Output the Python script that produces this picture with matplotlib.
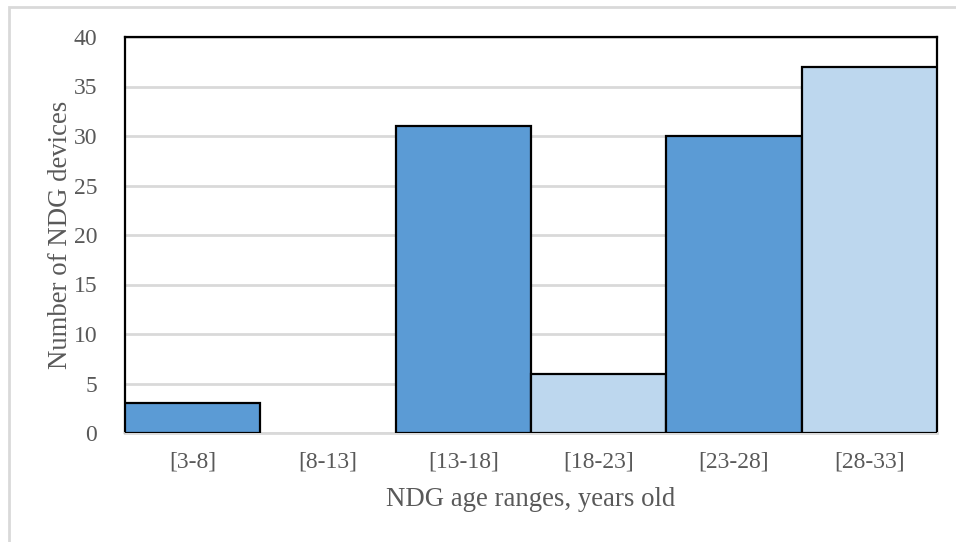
import matplotlib
matplotlib.use("Agg")
import matplotlib.pyplot as plt
from matplotlib.patches import Rectangle

# data
age_ranges = ["[3-8]", "[8-13]", "[13-18]", "[18-23]", "[23-28]", "[28-33]"]
device_counts = [3, 0, 31, 6, 30, 37]
y_ticks = [0, 5, 10, 15, 20, 25, 30, 35, 40]

DARK = "#5B9BD5"
LIGHT = "#BDD7EE"
bar_colors = [DARK, DARK, DARK, LIGHT, DARK, LIGHT]
TEXT = "#595959"
GRID = "#D9D9D9"

plt.rcParams["font.family"] = ["Liberation Serif", "DejaVu Serif"]

W, H = 956, 542
fig = plt.figure(figsize=(W / 100, H / 100), dpi=100)
ax = fig.add_axes([125 / W, 1 - 433 / H, (937 - 125) / W, (433 - 37) / H])

x = range(len(age_ranges))
for i, v in zip(x, device_counts):
    if v > 0:
        ax.bar(i, v, width=1.0, color=bar_colors[i], edgecolor="black",
               linewidth=1.6, zorder=3)

ax.set_xlim(-0.5, len(age_ranges) - 0.5)
ax.set_ylim(0, 40)
ax.set_yticks(y_ticks)
ax.set_xticks(list(x))
ax.set_xticklabels(age_ranges)
ax.yaxis.grid(True, color=GRID, linewidth=2, zorder=0)
ax.set_axisbelow(True)
ax.tick_params(axis="both", length=0, labelsize=17, colors=TEXT)
ax.tick_params(axis="x", pad=13)
ax.tick_params(axis="y", pad=20)

for s in ("top", "left", "right"):
    ax.spines[s].set_color("black")
    ax.spines[s].set_linewidth(1.6)
ax.spines["bottom"].set_color(GRID)
ax.spines["bottom"].set_linewidth(2)

ax.set_xlabel("NDG age ranges, years old", fontsize=19.3, color=TEXT, labelpad=11)
ax.set_ylabel("Number of NDG devices", fontsize=19.3, color=TEXT)
ax.yaxis.set_label_coords(-0.064, 0.5)

# light outer frame of the chart area
fig.patches.append(Rectangle((9 / W, -0.1), 1.2, 1 - 7 / H + 0.1,
                             transform=fig.transFigure, fill=False,
                             edgecolor=GRID, linewidth=2))

fig.savefig("out.png", dpi=100)
